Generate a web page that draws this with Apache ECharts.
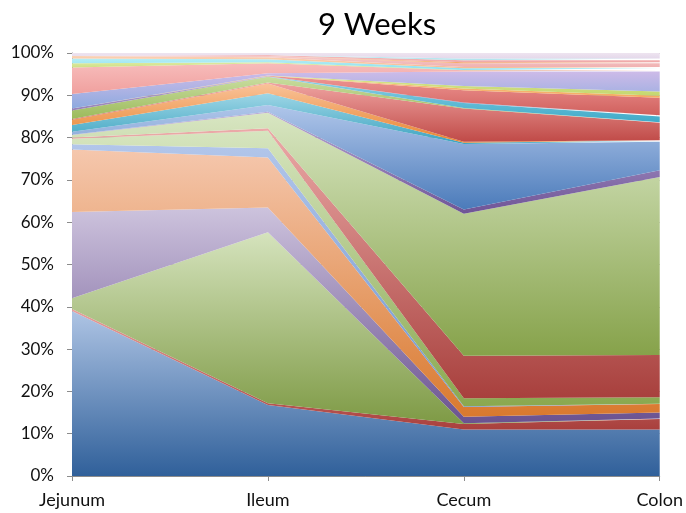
<!DOCTYPE html>
<html>
<head>
<meta charset="utf-8">
<title>9 Weeks</title>
<script src="https://cdn.jsdelivr.net/npm/echarts@6/dist/echarts.min.js"></script>
<style>
  html, body { margin: 0; padding: 0; background: #fff; }
  #chart { width: 686px; height: 513px; }
</style>
</head>
<body>
<div id="chart"></div>
<script>
// Gut sections along the x axis
const categories = ['Jejunum', 'Ileum', 'Cecum', 'Colon'];

// Y axis ticks (percent of total)
const yTicks = [0, 10, 20, 30, 40, 50, 60, 70, 80, 90, 100];

// Relative abundance (%) of each layer, bottom to top, per section
const band01 = [39.0, 16.8, 11.0, 11.0];
const band02 = [0.5, 0.4, 1.3, 2.5];
const band03 = [2.5, 40.4, 0.2, 0.1];
const band04 = [20.4, 5.9, 1.5, 1.4];
const band05 = [14.8, 11.8, 2.3, 2.0];
const band06 = [1.2, 2.2, 0.2, 0.1];
const band07 = [1.3, 4.1, 1.9, 1.5];
const band08 = [0.3, 0.6, 10.0, 10.0];
const band09 = [0.6, 3.7, 33.6, 42.1];
const band10 = [0.1, 0.2, 1.0, 1.6];
const band11 = [0.7, 1.6, 15.5, 6.7];
const band12 = [1.6, 2.8, 0.3, 0.2];
const band13 = [1.2, 2.3, 0.2, 0.2];
const band14 = [0.2, 0.2, 7.9, 4.1];
const band15 = [2.0, 1.4, 0.1, 0.1];
const band16 = [0.5, 0.05, 0, 0];
const band17 = [0, 0.05, 1.2, 1.4];
const band18 = [0, 0, 0.1, 0.3];
const band19 = [0, 0.1, 2.9, 4.1];
const band20 = [0, 0.05, 0.4, 0.5];
const band21 = [0, 0.05, 0.6, 1.0];
const band22 = [3.4, 0.5, 3.4, 4.7];
const band23 = [6.3, 2.4, 0.3, 0.3];
const band24 = [1.0, 0.2, 0.1, 0.1];
const band25 = [1.1, 0.7, 0.4, 0.4];
const band26 = [0.6, 0.5, 0.3, 0.3];
const band27 = [0, 0.3, 0.9, 0.9];
const band28 = [0, 0, 0.2, 0.2];
const band29 = [0, 0.2, 0.5, 0.5];
const band30 = [0, 0, 0.4, 0.4];
const band31 = [0.7, 0.5, 1.3, 1.3];

const bands = [band01, band02, band03, band04, band05, band06, band07, band08,
  band09, band10, band11, band12, band13, band14, band15, band16, band17,
  band18, band19, band20, band21, band22, band23, band24, band25, band26,
  band27, band28, band29, band30, band31];

// Vertical gradient per layer: [top colour, bottom colour]
const fills = [
  ['#AEC4E4', '#30609A'], ['#E8A09E', '#A9403D'], ['#D5E3BD', '#7E9A45'],
  ['#CDC3DD', '#6A5290'], ['#F5C7AD', '#D9792E'], ['#B2C6EA', '#6F93CF'],
  ['#D6E5BF', '#8AA84F'], ['#EBAAA8', '#A8403D'], ['#D8E6C2', '#86A24A'],
  ['#B9A8D4', '#6E5496'], ['#B0C6EA', '#4B7BBA'], ['#9ED6E6', '#3BA3C0'],
  ['#F9C39A', '#E8842F'], ['#EFA4A2', '#C04A47'], ['#C9DDA0', '#98B755'],
  ['#B7A6D1', '#8B75AE'], ['#8ED2E6', '#3FAAC8'], ['#9DB8E4', '#5A86C4'],
  ['#EE9593', '#D0605D'], ['#F8C08A', '#F2A04A'], ['#D8E58E', '#B7CE5C'],
  ['#CDBBE8', '#8DAADF'], ['#F7BCBB', '#F0A09E'], ['#DDE9A0', '#C6DB78'],
  ['#B4EEF6', '#8EE0EE'], ['#FAD2B4', '#F6BC94'], ['#F6CACA', '#F0B2B2'],
  ['#F9C089', '#F4A762'], ['#F4BDBD', '#EFA8A8'], ['#C8EEF4', '#B0E4EE'],
  ['#EEE4F0', '#E4D8EA']
];

// 100% stacking: scale each section so its layers add up to 100
const totals = categories.map((_, i) => bands.reduce((s, b) => s + b[i], 0));
const pct = bands.map(b => b.map((v, i) => v / totals[i] * 100));

const series = pct.map((data, k) => ({
  name: 'band' + (k + 1),
  type: 'line',
  stack: 'total',
  data: data,
  symbol: 'none',
  showSymbol: false,
  silent: true,
  lineStyle: { width: 0 },
  areaStyle: {
    opacity: 1,
    color: new echarts.graphic.LinearGradient(0, 0, 0, 1, [
      { offset: 0, color: fills[k][0] },
      { offset: 1, color: fills[k][1] }
    ])
  }
}));

const chart = echarts.init(document.getElementById('chart'), null, { renderer: 'canvas' });
chart.setOption({
  animation: false,
  backgroundColor: '#ffffff',
  title: {
    text: '9 Weeks',
    left: 372,
    top: 4,
    textAlign: 'center',
    textStyle: { fontFamily: 'Lato', fontSize: 31, fontWeight: 'normal', color: '#000' }
  },
  grid: { left: 72, right: 24, top: 53, bottom: 37, containLabel: false },
  xAxis: {
    type: 'category',
    data: categories,
    boundaryGap: false,
    axisLine: { lineStyle: { color: '#8c8c8c', width: 1 } },
    axisTick: { show: true, length: 5, lineStyle: { color: '#8c8c8c' } },
    axisLabel: { margin: 15, fontFamily: 'Lato', fontSize: 18, color: '#111' },
    splitLine: { show: false }
  },
  yAxis: {
    type: 'value',
    min: yTicks[0],
    max: yTicks[yTicks.length - 1],
    interval: yTicks[1] - yTicks[0],
    axisLine: { show: true, lineStyle: { color: '#8c8c8c', width: 1 } },
    axisTick: { show: true, length: 5, lineStyle: { color: '#8c8c8c' } },
    axisLabel: { margin: 18, fontFamily: 'Lato', fontSize: 17, color: '#111', formatter: '{value}%' },
    splitLine: { show: true, lineStyle: { color: '#b0b0b0', width: 1 } }
  },
  series: series
});
</script>
</body>
</html>
